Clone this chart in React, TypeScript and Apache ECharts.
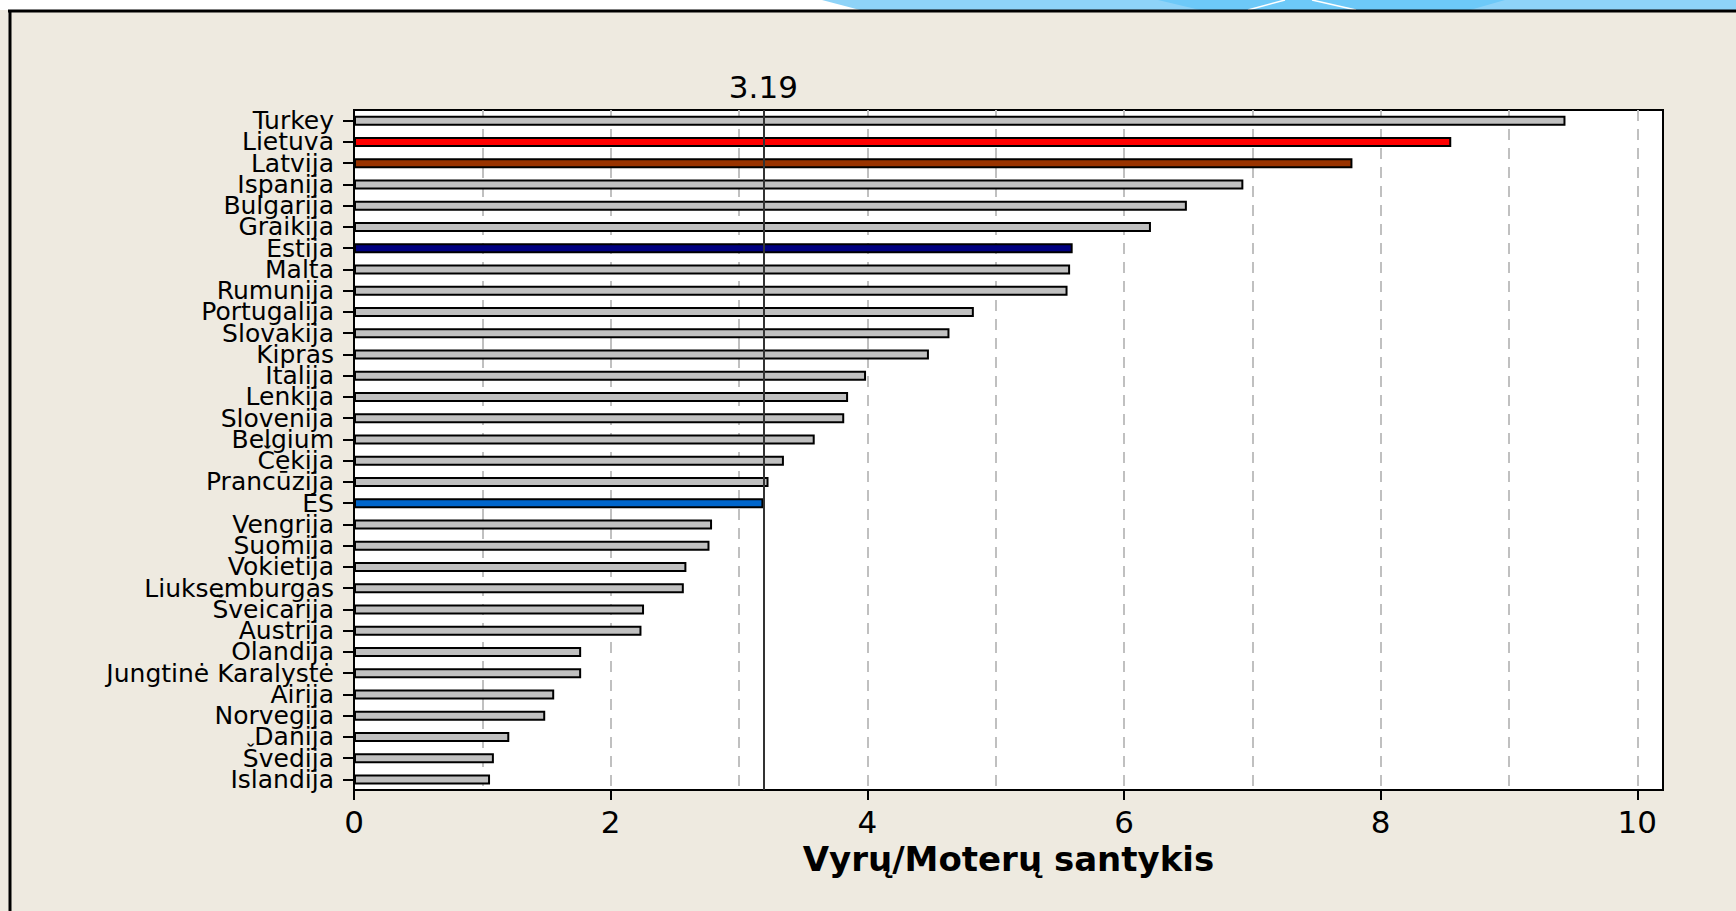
import React, { useEffect, useRef } from "react";
import * as echarts from "echarts";

const categories = [
  "Turkey", "Lietuva", "Latvija", "Ispanija", "Bulgarija", "Graikija", "Estija", "Malta",
  "Rumunija", "Portugalija", "Slovakija", "Kipras", "Italija", "Lenkija", "Slovenija", "Belgium",
  "Čekija", "Prancūzija", "ES", "Vengrija", "Suomija", "Vokietija", "Liuksemburgas", "Šveicarija",
  "Austrija", "Olandija", "Jungtinė Karalystė", "Airija", "Norvegija", "Danija", "Švedija", "Islandija",
];

const values = [
  9.44, 8.55, 7.78, 6.93, 6.49, 6.21, 5.60, 5.58,
  5.56, 4.83, 4.64, 4.48, 3.99, 3.85, 3.82, 3.59,
  3.35, 3.23, 3.19, 2.79, 2.77, 2.59, 2.57, 2.26,
  2.24, 1.77, 1.77, 1.56, 1.49, 1.21, 1.09, 1.06,
];

const highlightColors: Record<string, string> = {
  Lietuva: "#FF0000",
  Latvija: "#993300",
  Estija: "#000080",
  ES: "#0066CC",
};

const esValue = 3.19;
const xTickValues = [0, 2, 4, 6, 8, 10];
const xAxisTitle = "Vyrų/Moterų santykis";

const FONT = "'DejaVu Sans', Verdana, sans-serif";

export default function App() {
  const ref = useRef<HTMLDivElement>(null);

  useEffect(() => {
    if (!ref.current) return;
    const chart = echarts.init(ref.current, null, { renderer: "svg" });

    const seriesData = values.map((v, i) => {
      const c = highlightColors[categories[i]];
      return {
        value: v,
        itemStyle: { color: c || "#C0C0C0" },
      };
    });

    chart.setOption({
      animation: false,
      backgroundColor: "#EEEAE0",
      textStyle: { fontFamily: FONT },
      graphic: [
        { type: "rect", shape: { x: 0, y: 0, width: 1736, height: 10 }, style: { fill: "#FFFFFF" }, silent: true },
        {
          type: "polygon",
          shape: { points: [[822, 0], [1736, 0], [1736, 10], [860, 10]] },
          style: { fill: "#8ED3F8" },
          silent: true,
        },
        {
          type: "polygon",
          shape: { points: [[1158, 0], [1505, 0], [1470, 10], [1200, 10]] },
          style: { fill: "#6DC9F8" },
          silent: true,
        },
        { type: "line", shape: { x1: 1248, y1: 10, x2: 1285, y2: 0 }, style: { stroke: "#FFFFFF", lineWidth: 1.5 }, silent: true },
        { type: "line", shape: { x1: 1312, y1: 0, x2: 1356, y2: 10 }, style: { stroke: "#FFFFFF", lineWidth: 1.5 }, silent: true },
        { type: "line", shape: { x1: 8, y1: 11, x2: 1736, y2: 11 }, style: { stroke: "#000000", lineWidth: 3 }, silent: true },
        { type: "line", shape: { x1: 10, y1: 10, x2: 10, y2: 911 }, style: { stroke: "#000000", lineWidth: 3 }, silent: true },
      ],
      grid: {
        left: 354,
        top: 110,
        right: 73,
        bottom: 121,
        show: true,
        backgroundColor: "#FFFFFF",
        borderColor: "#000000",
        borderWidth: 2,
        containLabel: false,
      },
      xAxis: [
        {
          type: "value",
          min: 0,
          max: 10.2,
          interval: 2,
          position: "bottom",
          axisLine: { show: true, lineStyle: { color: "#000000", width: 2 } },
          axisTick: { show: true, length: 10, inside: false, customValues: xTickValues, lineStyle: { color: "#000000", width: 2 } },
          axisLabel: {
            show: true,
            customValues: xTickValues,
            fontSize: 31,
            color: "#000000",
            margin: 16,
            fontFamily: FONT,
          },
          splitLine: { show: false },
          name: xAxisTitle,
          nameLocation: "middle",
          nameGap: 52,
          nameTextStyle: { fontSize: 34, fontWeight: "bold", color: "#000000", fontFamily: FONT },
        },
        {
          type: "value",
          min: 0,
          max: 10.2,
          interval: 1,
          position: "top",
          axisLine: { show: false },
          axisTick: { show: false },
          axisLabel: { show: false },
          splitLine: {
            show: true,
            showMinLine: false,
            showMaxLine: false,
            lineStyle: { color: "#C0C0C0", width: 2, type: [11, 8] },
          },
        },
      ],
      yAxis: [
        {
          type: "category",
          data: categories,
          inverse: true,
          axisLine: { show: true, lineStyle: { color: "#000000", width: 2 } },
          axisTick: { show: true, length: 11, alignWithLabel: true, lineStyle: { color: "#000000", width: 2 } },
          axisLabel: {
            fontSize: 25,
            lineHeight: 21,
            color: "#000000",
            margin: 20,
            fontFamily: FONT,
            interval: 0,
          },
          splitLine: { show: false },
        },
        {
          type: "category",
          data: categories,
          inverse: true,
          position: "right",
          axisLine: { show: true, lineStyle: { color: "#000000", width: 2 } },
          axisTick: { show: false },
          axisLabel: { show: false },
          splitLine: { show: false },
        },
      ],
      series: [
        {
          type: "bar",
          xAxisIndex: 0,
          yAxisIndex: 0,
          data: seriesData,
          barWidth: 10,
          itemStyle: { borderColor: "#000000", borderWidth: 2 },
          markLine: {
            silent: true,
            symbol: "none",
            lineStyle: { color: "#333333", width: 2, type: "solid" },
            label: {
              show: true,
              position: "start",
              distance: 8,
              formatter: "{c}",
              fontSize: 31,
              color: "#000000",
              fontFamily: FONT,
            },
            data: [{ xAxis: esValue }],
          },
        },
      ],
    });

    return () => chart.dispose();
  }, []);

  return (
    <div style={{ position: "absolute", left: 0, top: 0, width: 1736, height: 911 }}>
      <div ref={ref} style={{ width: 1736, height: 911 }} />
    </div>
  );
}
